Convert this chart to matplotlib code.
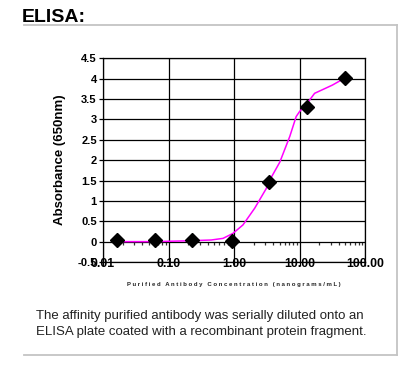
import matplotlib
matplotlib.use("Agg")
import matplotlib.pyplot as plt
from matplotlib.lines import Line2D
from matplotlib.ticker import LogLocator, FixedLocator, FixedFormatter, NullFormatter

plt.rcParams['font.family'] = ['Liberation Sans', 'DejaVu Sans']

# Data
conc = [0.0165, 0.062, 0.23, 0.93, 3.4, 12.9, 50.0]
absorb = [0.04, 0.04, 0.04, 0.01, 1.47, 3.31, 4.02]

curve_x = [0.0165, 0.06, 0.2, 0.45, 0.68, 0.96, 1.37, 2.07, 3.1, 3.4, 5.0, 7.1, 8.9, 10.0, 12.9, 17.0, 31.6, 50.0]
curve_y = [0.0, 0.0, 0.02, 0.04, 0.08, 0.2, 0.41, 0.82, 1.3, 1.47, 1.95, 2.58, 3.07, 3.19, 3.38, 3.64, 3.84, 4.02]

x_ticks = [0.01, 0.1, 1, 10, 100]
x_ticklabels = ["0.01", "0.10", "1.00", "10.00", "100.00"]
y_ticks = [-0.5, 0, 0.5, 1, 1.5, 2, 2.5, 3, 3.5, 4, 4.5]
y_ticklabels = ["-0.5", "0", "0.5", "1", "1.5", "2", "2.5", "3", "3.5", "4", "4.5"]

title = "ELISA:"
ylabel = "Absorbance (650nm)"
xlabel = "Purified Antibody Concentration (nanograms/mL)"
caption = ("The affinity purified antibody was serially diluted onto an\n"
           "ELISA plate coated with a recombinant protein fragment.")

fig = plt.figure(figsize=(4.0, 3.76), dpi=100)
ax = fig.add_axes([0.2575, 0.3032, 0.655, 0.5418])

ax.set_xscale('log')
ax.set_xlim(0.01, 100)
ax.set_ylim(-0.5, 4.5)

ax.plot(curve_x, curve_y, color='#ff00ff', lw=1.1, zorder=3)
ax.plot(conc, absorb, linestyle='none', marker='D', markersize=7,
        color='black', zorder=4)

ax.xaxis.set_major_locator(FixedLocator(x_ticks))
ax.xaxis.set_major_formatter(FixedFormatter(x_ticklabels))
ax.xaxis.set_minor_locator(FixedLocator([]))
ax.yaxis.set_major_locator(FixedLocator(y_ticks))
ax.yaxis.set_major_formatter(FixedFormatter(y_ticklabels))

ax.grid(True, which='major', color='black', lw=0.9)
for s in ax.spines.values():
    s.set_color('black')
    s.set_linewidth(0.9)

ax.tick_params(axis='y', direction='out', length=3, width=0.9, pad=1.5,
               labelsize=8)
ax.tick_params(axis='x', direction='out', length=3, width=0.9, pad=-6,
               labelsize=8.8)
for lab in ax.get_xticklabels() + ax.get_yticklabels():
    lab.set_fontweight('bold')

# minor ticks along the y=0 line
sec = ax.secondary_xaxis(0.1)
sec.spines['bottom'].set_visible(False)
sec.xaxis.set_major_locator(FixedLocator([]))
sec.xaxis.set_minor_locator(LogLocator(base=10, subs=range(2, 10)))
sec.xaxis.set_minor_formatter(NullFormatter())
sec.tick_params(axis='x', which='minor', direction='out', length=2, width=0.9,
                color='#333333')

ax.set_ylabel(ylabel, fontsize=9.5, fontweight='bold', labelpad=8)
ax.set_xlabel(" ".join(xlabel), fontsize=4.3, fontweight='bold',
              color='#222222', labelpad=9)

fig.text(0.055, 1 - 22 / 376, title, fontsize=14, fontweight='bold',
         ha='left', va='baseline')

fig.text(0.09, 1 - 324 / 376, caption, fontsize=9.5, color='#222222',
         ha='left', va='center', linespacing=1.35)

frame_c = '#c4c4c4'
fig.add_artist(Line2D([0.06, 0.9925], [1 - 25 / 376, 1 - 25 / 376],
                      color=frame_c, lw=1.3, transform=fig.transFigure))
fig.add_artist(Line2D([0.9925, 0.9925], [1 - 25 / 376, 1 - 355 / 376],
                      color=frame_c, lw=1.3, transform=fig.transFigure))
fig.add_artist(Line2D([0.06, 0.9925], [1 - 355 / 376, 1 - 355 / 376],
                      color=frame_c, lw=1.3, transform=fig.transFigure))

fig.savefig("out.png", dpi=100)
